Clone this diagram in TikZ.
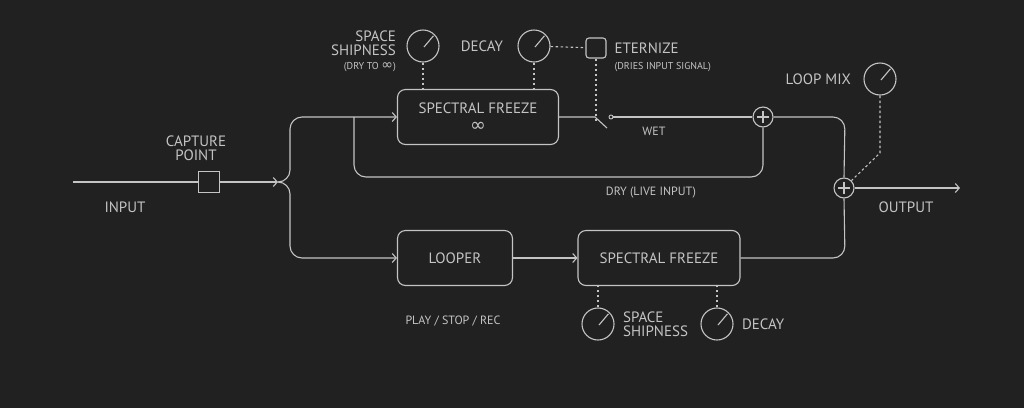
\documentclass[tikz,border=0pt]{standalone}
\usepackage{fontspec}
\setmainfont{PT Sans}
\newfontfamily\symf{DejaVu Sans}
\usetikzlibrary{arrows.meta,positioning}
\definecolor{bg}{HTML}{212121}
\definecolor{ink}{HTML}{C4C4C4}
\begin{document}
\begin{tikzpicture}[
    x=1pt, y=-1pt,
    every node/.style={text=ink, inner sep=0pt},
    every path/.style={draw=ink, line width=1.1pt},
    >={Straight Barb[length=4pt,width=9pt]},
    block/.style={draw, rounded corners=8pt, minimum height=55pt, font=\fontsize{15}{17}\selectfont, align=center},
    knob/.style={circle, draw, minimum size=32pt},
    summer/.style={circle, draw, minimum size=20pt,
        path picture={\draw ([xshift=-6pt]path picture bounding box.center) -- ([xshift=6pt]path picture bounding box.center)
                             ([yshift=-6pt]path picture bounding box.center) -- ([yshift=6pt]path picture bounding box.center);}},
    lbl/.style={font=\fontsize{15}{17}\selectfont, align=center},
    small/.style={font=\fontsize{10}{11}\selectfont},
    ctrl/.style={dash pattern=on 2.5pt off 2.5pt},
    wire/.style={rounded corners=12pt}
]
\fill[bg, draw=none] (0,0) rectangle (1024,408);
\path[draw=none, use as bounding box] (0,0) rectangle (1024,408);

% blocks
\node[block, minimum width=161pt] (freeze) at (478,117) {SPECTRAL FREEZE\\[1pt]{\fontsize{19}{19}\symf ∞}};
\node[block, minimum width=115pt] (looper) at (455,258) {LOOPER};
\node[block, minimum width=162pt] (freezeB) at (659,258) {SPECTRAL FREEZE};
\node[draw, minimum size=21pt] (capture) at (209,182) {};
\node[draw, rounded corners=3pt, minimum size=20pt] (eternize) at (596,48) {};
\node[summer] (sumWet) at (763,117) {};
\node[summer] (sumOut) at (844,188) {};

% knobs
\node[knob] (kSpace) at (423,46) {};
\node[knob] (kDecay) at (534,46) {};
\node[knob] (kMix) at (880,79) {};
\node[knob] (kSpaceB) at (598,324) {};
\node[knob] (kDecayB) at (717,324) {};
\foreach \k in {kSpace,kDecay,kMix,kSpaceB,kDecayB}
    \draw[shorten >=2pt] ([shift={(1pt,-1pt)}]\k.center) -- (\k.north east);

% labels
\node[lbl, align=right, left=10pt of kSpace, yshift=3pt] (lSpace) {SPACE\\[-3pt]SHIPNESS};
\node[small, below left=6pt and 0pt of lSpace.south east] {(DRY TO {\fontsize{14}{14}\symf ∞})};
\node[lbl, left=14pt of kDecay] {DECAY};
\node[lbl, anchor=west] (lEtern) at (614,48) {ETERNIZE};
\node[small, anchor=west] at (614,67) {(DRIES INPUT SIGNAL)};
\node[lbl, left=12pt of kMix] {LOOP MIX};
\node[lbl, align=left, right=8pt of kSpaceB] {SPACE\\[-3pt]SHIPNESS};
\node[lbl, right=8pt of kDecayB] {DECAY};
\node[lbl] at (196,148) {CAPTURE\\[-3pt]POINT};
\node[lbl] at (125,207) {INPUT};
\node[lbl] at (906,207) {OUTPUT};
\node[small, font=\fontsize{12}{13}\selectfont] at (654,131) {WET};
\node[small, font=\fontsize{12}{13}\selectfont] at (651,193) {DRY (LIVE INPUT)};
\node[small, font=\fontsize{12}{13}\selectfont] at (453,321) {PLAY / STOP / REC};

% signal path
\coordinate (in) at (73,182);
\coordinate (split) at (278,182);
\coordinate (tap) at (354,117);
\coordinate (blade) at (595,117);
\coordinate (contact) at (611,117);
\coordinate (out) at (960,188);
\draw (in) -- (capture);
\draw[->] (capture) -- (split);
\draw[wire, ->] (split) -- (290,182) -- (290,117) -- (freeze.west);
\draw[wire, ->] (split) -- (290,182) -- (290,258) -- (looper.west);
\draw[wire] (tap) -- (354,177) -- (763,177) -- (sumWet.south);
\draw (freeze.east) -- (blade) -- ++(12,11);
\node[circle, draw, minimum size=4pt, line width=0.9pt] (sw) at (contact) {};
\draw (sw) -- (sumWet.west);
\draw[wire] (sumWet.east) -- (845,117) -- (sumOut.north);
\draw[wire] (freezeB.east) -- (845,258) -- (sumOut.south);
\draw[->] (looper.east) -- (freezeB.west);
\draw[->] (sumOut.east) -- (out);

% controls
\draw[ctrl] (kSpace) -- (kSpace |- freeze.north);
\draw[ctrl] (kDecay) -- (kDecay |- freeze.north);
\draw[ctrl] (kDecay) -- (eternize);
\draw[ctrl] (eternize) -- (596,121);
\draw[ctrl] (kMix) -- (880,153) -- (sumOut.north east);
\draw[ctrl] (kSpaceB) -- (kSpaceB |- freezeB.south);
\draw[ctrl] (kDecayB) -- (kDecayB |- freezeB.south);
\end{tikzpicture}
\end{document}
